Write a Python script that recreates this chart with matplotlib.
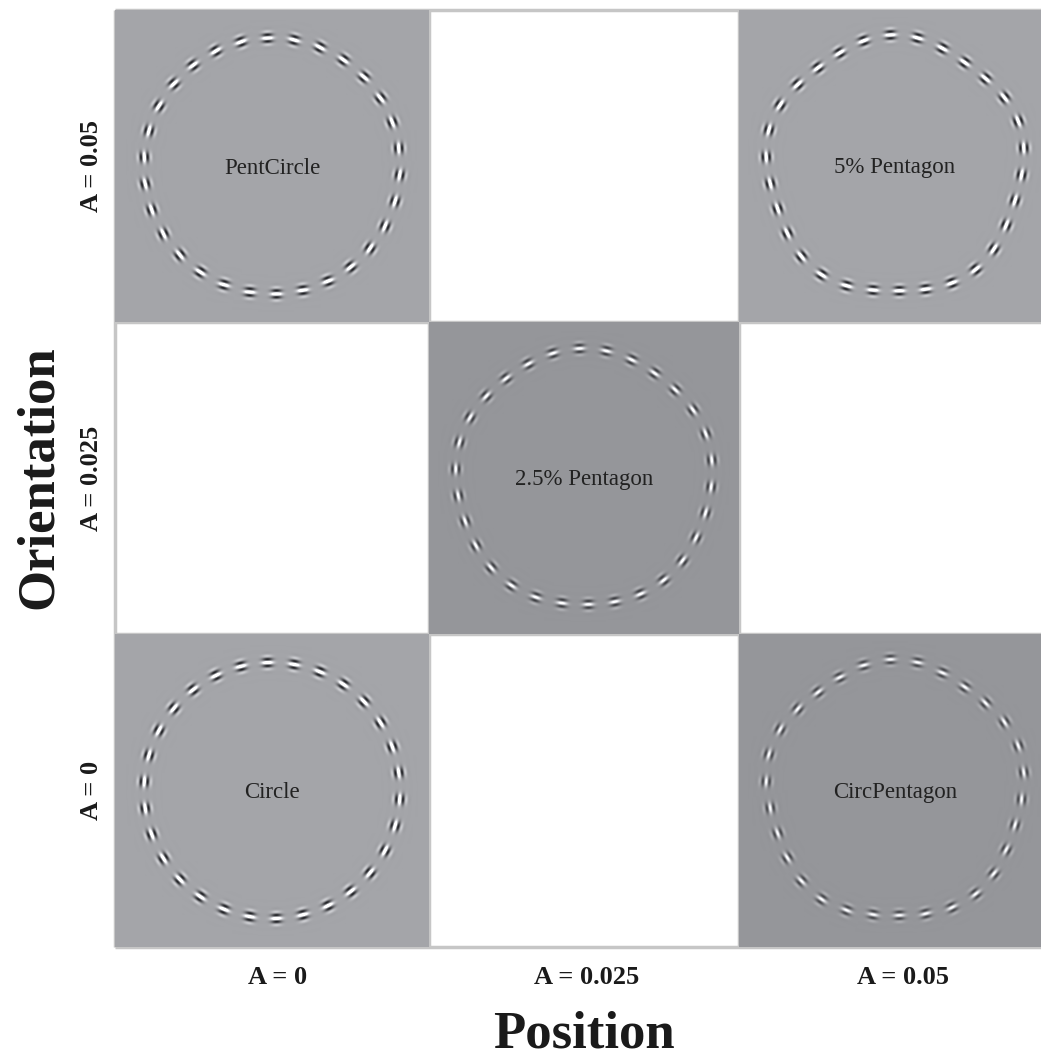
import numpy as np
import matplotlib
matplotlib.use("Agg")
import matplotlib.pyplot as plt

# --- chart values -----------------------------------------------------------
level_labels = ["A = 0", "A = 0.025", "A = 0.05"]          # position (x) levels
row_labels = ["A = 0.05", "A = 0.025", "A = 0"]            # orientation (y) levels, top to bottom

panel_names = ["PentCircle", "5% Pentagon", "2.5% Pentagon", "Circle", "CircPentagon"]
panel_col = [0, 2, 1, 0, 2]
panel_row = [0, 0, 1, 2, 2]
position_amp = [0.0, 0.05, 0.025, 0.0, 0.05]
orientation_amp = [0.05, 0.05, 0.025, 0.0, 0.0]
panel_shade = ["#a4a5a9", "#a4a5a9", "#95969a", "#a4a5a9", "#95969a"]
gabor_contrast = [0.75, 0.75, 0.5, 0.75, 0.45]

# ring / gabor rendering settings (pixels)
N_GABORS = 30
FREQ = 5
RING_R = 128.0
SIG_ACROSS = 3.9
SIG_ALONG = 3.6
WAVELEN = 7.2
PEAK_TO_PEAK = 0.5  # A read as peak-to-peak fraction of the radius

# cell edges in figure pixels (right column runs past the page edge)
X_EDGES = [115, 429, 739, 1051]
Y_EDGES = [10, 322, 634, 947]
COL_LABEL_X = [278, 587, 903]

SERIF = ["Liberation Serif", "DejaVu Serif"]
INK = "#1a1a1a"


def render_panel(pos_amp, ori_amp, shade, contrast, w, h):
    """Builds an RGB image of a ring of Gabor patches on a grey field."""
    pos_amp = pos_amp * PEAK_TO_PEAK
    ori_amp = ori_amp * PEAK_TO_PEAK
    yy, xx = np.mgrid[0:h, 0:w].astype(float)
    X = xx + 0.5 - w / 2
    Y = -(yy + 0.5 - h / 2)
    img = np.zeros((h, w))
    for k in range(N_GABORS):
        th = np.pi / 2 + np.radians(2) + 2 * np.pi * k / N_GABORS
        ph = FREQ * (th - np.pi / 2)
        r = RING_R * (1 + pos_amp * np.cos(ph))
        cx, cy = r * np.cos(th), r * np.sin(th)
        # orientation follows the tangent of the modulated contour
        rr = 1 + ori_amp * np.cos(ph)
        drr = -FREQ * ori_amp * np.sin(ph)
        psi = th + np.pi / 2 - np.arctan(drr / rr)
        tx, ty = np.cos(psi), np.sin(psi)
        nx, ny = -ty, tx
        dx, dy = X - cx, Y - cy
        near = (np.abs(dx) < 18) & (np.abs(dy) < 18)
        a = dx[near] * tx + dy[near] * ty
        d = dx[near] * nx + dy[near] * ny
        env = np.exp(-a ** 2 / (2 * SIG_ALONG ** 2) - d ** 2 / (2 * SIG_ACROSS ** 2))
        img[near] += env * np.cos(2 * np.pi * d / WAVELEN)
    base = np.array(matplotlib.colors.to_rgb(shade))
    rgb = base[None, None, :] + contrast * img[..., None]
    return np.clip(rgb, 0, 1)


W, H = 1041, 1059
fig = plt.figure(figsize=(W / 100, H / 100), dpi=100)
ax = fig.add_axes([0, 0, 1, 1])
ax.axis("off")

# light grey grid behind the panels
for xv in X_EDGES:
    ax.plot([xv, xv], [Y_EDGES[0], Y_EDGES[-1]], color="#c6c6c6", lw=2.5, zorder=1,
            solid_capstyle="butt")
for yv in Y_EDGES:
    ax.plot([X_EDGES[0], X_EDGES[-1]], [yv, yv], color="#c6c6c6", lw=2.5, zorder=1,
            solid_capstyle="butt")

for i, name in enumerate(panel_names):
    c, r = panel_col[i], panel_row[i]
    x0, x1 = X_EDGES[c], X_EDGES[c + 1]
    y0, y1 = Y_EDGES[r], Y_EDGES[r + 1]
    im = render_panel(position_amp[i], orientation_amp[i], panel_shade[i], gabor_contrast[i],
                      int(x1 - x0), int(y1 - y0))
    ax.imshow(im, extent=(x0, x1, y1, y0), interpolation="bilinear", zorder=2)
    ax.text((x0 + x1) / 2, (y0 + y1) / 2 + 2, name, ha="center", va="center", fontsize=16.5,
            color="#222222", family=SERIF, zorder=3)

ax.set_xlim(0, W)
ax.set_ylim(H, 0)
ax.set_aspect("auto")

# column (position) labels
for c, lab in enumerate(level_labels):
    ax.text(COL_LABEL_X[c], 978, lab, ha="center", va="center",
            fontsize=19, fontweight="bold", family=SERIF, color=INK)
# row (orientation) labels
for r, lab in enumerate(row_labels):
    ax.text(92, (Y_EDGES[r] + Y_EDGES[r + 1]) / 2, lab, ha="center", va="center", rotation=90,
            fontsize=19, fontweight="bold", family=SERIF, color=INK)

ax.text(584, 1059, "Position", ha="center", va="bottom", fontsize=38, fontweight="bold",
        family=SERIF, color=INK)
ax.text(52, 477, "Orientation", ha="center", va="baseline", rotation=90, rotation_mode="anchor",
        fontsize=38, fontweight="bold", family=SERIF, color=INK)

fig.savefig("out.png", dpi=100, facecolor="white")
